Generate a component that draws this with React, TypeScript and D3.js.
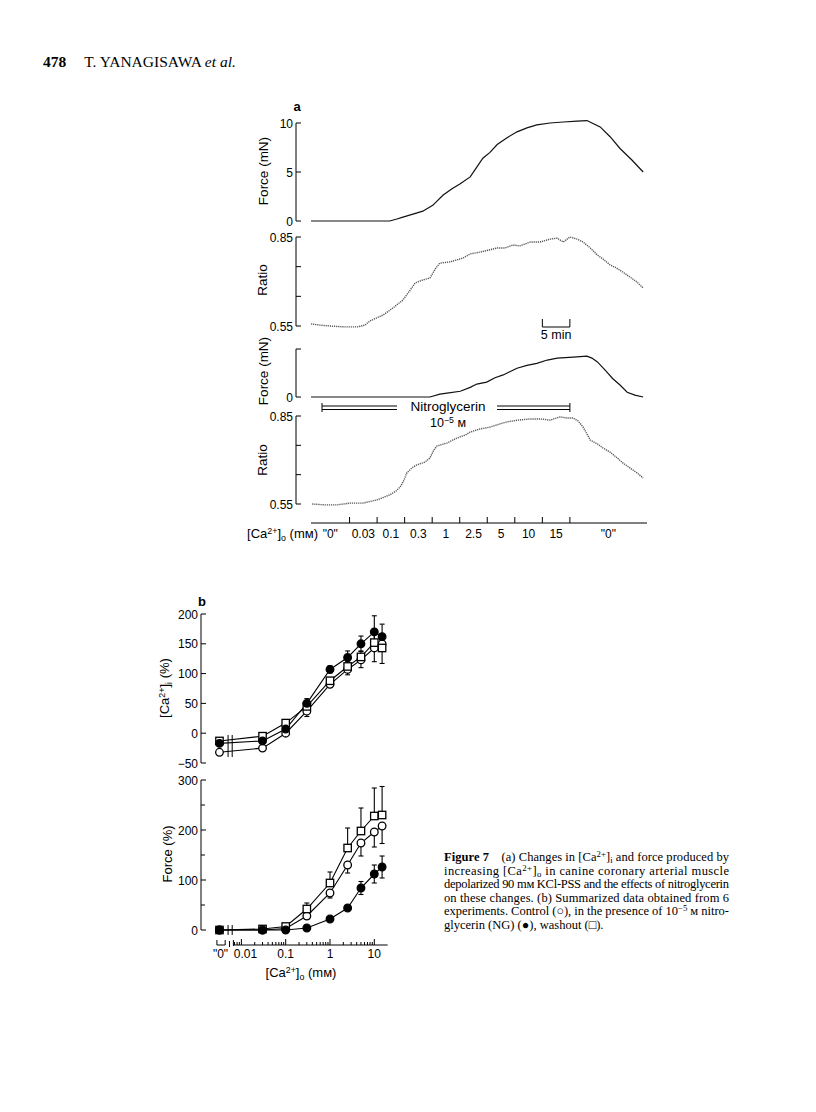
import React from 'react'
import * as d3 from 'd3'

// Fig. 7 — [Ca2+]i / force in coronary artery, effect of nitroglycerin.
// Panel a: recorded traces (time in min, value). Panel b: summary (n = 6).

type Pt = [number, number]

// ---- panel a : traces ----
const force1: Pt[] = [
  [0, 0], [14.3, 0], [15.6, 0.2], [16.7, 0.4], [18.5, 0.7], [20.3, 1.0], [22.1, 1.6],
  [24.0, 2.65], [25.6, 3.3], [27.1, 3.8], [28.9, 4.5], [30.1, 5.5], [31.2, 6.4],
  [32.5, 7.0], [33.8, 7.8], [35.6, 8.5], [37.4, 9.1], [39.2, 9.5], [41.0, 9.8],
  [43.4, 10.0], [45.8, 10.1], [48.3, 10.2], [50.1, 10.25], [51.0, 10.0], [52.5, 9.6],
  [54.3, 8.6], [56.1, 7.4], [58.3, 6.2], [60.3, 5.0],
]
const ratio1: Pt[] = [
  [0, 0.557], [1.6, 0.553], [3.4, 0.55], [6.2, 0.547], [8.4, 0.547], [9.8, 0.553],
  [10.7, 0.567], [13.1, 0.587], [14.9, 0.611], [16.7, 0.638], [18.0, 0.671],
  [18.9, 0.695], [20.3, 0.705], [21.6, 0.712], [22.7, 0.746], [23.4, 0.762],
  [25.2, 0.766], [27.6, 0.779], [28.9, 0.793], [30.7, 0.799], [33.8, 0.813],
  [35.2, 0.813], [36.7, 0.823], [37.9, 0.82], [39.8, 0.833], [41.6, 0.833],
  [43.4, 0.843], [44.7, 0.846], [45.8, 0.833], [47.0, 0.85], [48.3, 0.843],
  [49.4, 0.833], [50.7, 0.813], [52.0, 0.789], [53.0, 0.776], [54.3, 0.756],
  [55.4, 0.746], [56.6, 0.732], [57.9, 0.715], [59.2, 0.698], [60.3, 0.678],
]
const force2: Pt[] = [
  [0, 0], [21.6, 0], [23.4, 0.3], [24.7, 0.4], [27.1, 0.6], [28.9, 1.0], [30.1, 1.35],
  [31.9, 1.55], [33.4, 2.0], [34.9, 2.3], [37.4, 3.0], [39.2, 3.3], [41.0, 3.5],
  [42.9, 3.85], [44.7, 4.05], [47.6, 4.15], [50.1, 4.25], [51.0, 4.05], [52.0, 3.65],
  [53.4, 2.8], [54.8, 1.9], [56.1, 1.25], [57.4, 0.5], [58.8, 0.2], [60.3, 0],
]
const ratio2: Pt[] = [
  [0.2, 0.55], [2.5, 0.547], [4.7, 0.547], [7.1, 0.553], [9.4, 0.553], [12.0, 0.564],
  [14.3, 0.581], [15.4, 0.594], [16.2, 0.608], [16.9, 0.632], [17.4, 0.656],
  [18.3, 0.673], [19.2, 0.683], [20.7, 0.693], [21.6, 0.707], [22.3, 0.734],
  [22.9, 0.748], [24.7, 0.758], [26.5, 0.775], [28.0, 0.785], [28.9, 0.795],
  [30.7, 0.806], [32.5, 0.812], [34.3, 0.823], [35.6, 0.83], [37.6, 0.836],
  [39.8, 0.84], [41.6, 0.84], [43.4, 0.836], [45.2, 0.847], [46.5, 0.843],
  [47.6, 0.843], [48.5, 0.833], [49.4, 0.812], [50.1, 0.789], [50.7, 0.768],
  [52.0, 0.755], [53.0, 0.741], [54.3, 0.727], [55.6, 0.707], [56.6, 0.69],
  [57.9, 0.673], [59.2, 0.656], [60.3, 0.639],
]
// bath [Ca2+]o was changed at these times (min)
const concSteps = [0, 7, 12, 17, 22, 27, 32, 37, 42, 47, 61]
const concStepLabels = ['"0"', '0.03', '0.1', '0.3', '1', '2.5', '5', '10', '15', '"0"']
const ngPeriod = [2, 47]
const scaleBar = [42, 47]

// ---- panel b : means ----
const zeroConc = 0.0032 // where "0" sits on the log axis
const concs = [zeroConc, 0.03, 0.1, 0.3, 1, 2.5, 5, 10, 15]
const caControl = [-32, -25, 0, 37, 82, 107, 123, 143, 150]
const caNG = [-17, -13, 7, 50, 107, 127, 150, 170, 162]
const caWash = [-13, -5, 17, 45, 88, 112, 128, 152, 143]
const caControlErr = [0, 0, 0, 9, 5, 9, 13, 23, 33]
const caNGErr = [0, 0, 0, 8, 6, 11, 13, 27, 21]
const caWashErr = [0, 0, 0, 6, 5, 8, 10, 18, 18]
const fControl = [0, 0, 3, 28, 74, 130, 174, 196, 208]
const fNG = [0, 0, 0, 4, 22, 44, 84, 112, 126]
const fWash = [0, 2, 7, 42, 94, 164, 198, 228, 230]
const fControlErr = [0, 0, 0, 6, 10, 16, 26, 30, 35]
const fNGErr = [0, 0, 0, 0, 0, 4, 13, 18, 22]
const fWashErr = [0, 0, 0, 12, 22, 40, 46, 56, 57]
const logTicks = [0.01, 0.1, 1, 10]
const logTickLabels = ['0.01', '0.1', '1', '10']

const SANS = 'Liberation Sans, Arial, Helvetica, sans-serif'
const SERIF = 'Liberation Serif, Times New Roman, serif'
const TICK_FS = 12
const TITLE_FS = 13.5

function VAxis({ x, scale, ticks, labels, minor = [] }: any) {
  const [r0, r1] = scale.range()
  return (
    <g>
      <line x1={x} x2={x} y1={r0} y2={r1} stroke="#000" strokeWidth={1} />
      {ticks.map((t: number, i: number) => (
        <g key={i}>
          <line x1={x} x2={x + 5} y1={scale(t)} y2={scale(t)} stroke="#000" />
          {labels[i] ? (
            <text x={x - 3} y={scale(t) + 4.5} textAnchor="end" fontSize={TICK_FS} fontFamily={SANS}>
              {labels[i]}
            </text>
          ) : null}
        </g>
      ))}
      {minor.map((t: number, i: number) => (
        <line key={'m' + i} x1={x} x2={x + 4} y1={scale(t)} y2={scale(t)} stroke="#000" />
      ))}
    </g>
  )
}

function Marker({ kind, cx, cy }: any) {
  if (kind === 'square')
    return <rect x={cx - 3.7} y={cy - 3.7} width={7.4} height={7.4} fill="#fff" stroke="#000" strokeWidth={1.3} />
  return <circle cx={cx} cy={cy} r={3.8} fill={kind === 'filled' ? '#000' : '#fff'} stroke="#000" strokeWidth={1.3} />
}

function CaLabel({ sub }: { sub: string }) {
  return (
    <>
      <tspan>[Ca</tspan>
      <tspan fontSize="0.68em" dy={-4.5}>2+</tspan>
      <tspan dy={4.5}>]</tspan>
      <tspan fontSize="0.68em" dy={3}>{sub}</tspan>
      <tspan dy={-3}> </tspan>
    </>
  )
}

export default function App() {
  // panel a scales
  const xT = d3.scaleLinear().domain([0, 61]).range([311, 647])
  const yF1 = d3.scaleLinear().domain([0, 10]).range([221, 123])
  const yR1 = d3.scaleLinear().domain([0.55, 0.85]).range([326, 237])
  const yF2 = d3.scaleLinear().domain([0, 5]).range([397, 349])
  const yR2 = d3.scaleLinear().domain([0.55, 0.85]).range([504, 416])
  const axA = 296
  const traceLine = (y: any) => d3.line<Pt>().x((d) => xT(d[0])).y((d) => y(d[1]))

  // panel b scales
  const xC = d3.scaleLog().domain([0.01, 10]).range([241.4, 374.3])
  const yCa = d3.scaleLinear().domain([-50, 200]).range([763, 614])
  const yF = d3.scaleLinear().domain([0, 300]).range([930, 780])
  const axB = 201
  const xAxisY = 945

  const series = [
    { kind: 'circle', ca: caControl, caErr: caControlErr, f: fControl, fErr: fControlErr, dir: 'down' },
    { kind: 'square', ca: caWash, caErr: caWashErr, f: fWash, fErr: fWashErr, dir: 'up' },
    { kind: 'filled', ca: caNG, caErr: caNGErr, f: fNG, fErr: fNGErr, dir: 'both' },
  ]

  const meanLine = (y: any) =>
    d3.line<number>().x((_, i) => xC(concs[i])).y((d) => y(d))

  const errBars = (vals: number[], errs: number[], y: any, dir: string, key: string) =>
    vals.map((v, i) => {
      const e = errs[i]
      if (!e) return null
      const cx = xC(concs[i])
      const lo = dir === 'up' ? v : v - e
      const hi = dir === 'down' ? v : v + e
      return (
        <g key={key + i} stroke="#000" strokeWidth={1.1}>
          <line x1={cx} x2={cx} y1={y(lo)} y2={y(hi)} />
          {dir !== 'up' && <line x1={cx - 2.5} x2={cx + 2.5} y1={y(lo)} y2={y(lo)} />}
          {dir !== 'down' && <line x1={cx - 2.5} x2={cx + 2.5} y1={y(hi)} y2={y(hi)} />}
        </g>
      )
    })

  const minorTicks: number[] = []
  for (const dec of [0.001, 0.01, 0.1, 1, 10]) for (let k = 2; k <= 9; k++) minorTicks.push(dec * k)
  const axisLo = 0.0066
  const axisHi = 20
  const minorIn = minorTicks.filter((t) => t > axisLo && t < axisHi)

  const captionLines: React.ReactNode[] = [
    <>
      <tspan fontWeight="bold">Figure 7</tspan>
      <tspan>{'\u2003(a) Changes in [Ca'}</tspan>
      <tspan fontSize="0.7em" dy={-4}>2+</tspan>
      <tspan dy={4}>]</tspan>
      <tspan fontSize="0.7em" dy={2}>i</tspan>
      <tspan dy={-2}> and force produced by</tspan>
    </>,
    <>
      <tspan>increasing [Ca</tspan>
      <tspan fontSize="0.7em" dy={-4}>2+</tspan>
      <tspan dy={4}>]</tspan>
      <tspan fontSize="0.7em" dy={2}>o</tspan>
      <tspan dy={-2}> in canine coronary arterial muscle</tspan>
    </>,
    <>depolarized 90 mм KCl-PSS and the effects of nitroglycerin</>,
    <>on these changes. (b) Summarized data obtained from 6</>,
    <>
      <tspan>experiments. Control (○), in the presence of 10</tspan>
      <tspan fontSize="0.7em" dy={-4}>−5</tspan>
      <tspan dy={4}> м nitro-</tspan>
    </>,
    <>glycerin (NG) (●), washout (□).</>,
  ]
  const captionY = [861, 875, 888, 902, 915, 929]

  return (
    <svg
      width={816}
      height={1112}
      viewBox="0 0 816 1112"
      style={{ position: 'absolute', left: 0, top: 0, background: '#fff' }}
    >
      <rect width={816} height={1112} fill="#fff" />

      {/* running head */}
      <text x={43} y={67} fontFamily={SERIF} fontSize={15.5}>
        <tspan fontWeight="bold">478</tspan>
        <tspan dx={18}>T. YANAGISAWA </tspan>
        <tspan fontStyle="italic">et al.</tspan>
      </text>

      {/* ================= panel a ================= */}
      <text x={297} y={111} textAnchor="middle" fontFamily={SANS} fontWeight="bold" fontSize={13}>a</text>

      <VAxis x={axA} scale={yF1} ticks={[10, 5, 0]} labels={['10', '5', '0']} />
      <path d={traceLine(yF1)(force1) || ''} fill="none" stroke="#111" strokeWidth={1.2} />
      <text transform={`translate(268,171) rotate(-90)`} textAnchor="middle" fontFamily={SANS} fontSize={TITLE_FS}>Force (mN)</text>

      <VAxis x={axA} scale={yR1} ticks={[0.85, 0.75, 0.65, 0.55]} labels={['0.85', '', '', '0.55']} />
      <path d={traceLine(yR1)(ratio1) || ''} fill="none" stroke="#555" strokeWidth={1.4} strokeDasharray="1.2 0.9" />
      <text transform={`translate(267,280) rotate(-90)`} textAnchor="middle" fontFamily={SANS} fontSize={TITLE_FS}>Ratio</text>

      {/* 5 min calibration */}
      <path
        d={`M${xT(scaleBar[0])},319V327H${xT(scaleBar[1])}V319`}
        fill="none"
        stroke="#000"
        strokeWidth={1}
      />
      <text x={(xT(scaleBar[0]) + xT(scaleBar[1])) / 2} y={339} textAnchor="middle" fontFamily={SANS} fontSize={12.5}>5 min</text>

      <VAxis x={axA} scale={yF2} ticks={[5, 0]} labels={['', '0']} />
      <path d={traceLine(yF2)(force2) || ''} fill="none" stroke="#111" strokeWidth={1.2} />
      <text transform={`translate(268,371) rotate(-90)`} textAnchor="middle" fontFamily={SANS} fontSize={TITLE_FS}>Force (mN)</text>

      {/* nitroglycerin application */}
      <g stroke="#000" strokeWidth={1}>
        <line x1={xT(ngPeriod[0])} x2={xT(ngPeriod[0])} y1={403} y2={412} />
        <line x1={xT(ngPeriod[1])} x2={xT(ngPeriod[1])} y1={403} y2={412} />
        <line x1={xT(ngPeriod[0])} x2={397} y1={406} y2={406} />
        <line x1={xT(ngPeriod[0])} x2={397} y1={409.5} y2={409.5} />
        <line x1={497} x2={xT(ngPeriod[1])} y1={406} y2={406} />
        <line x1={497} x2={xT(ngPeriod[1])} y1={409.5} y2={409.5} />
      </g>
      <text x={448} y={411} textAnchor="middle" fontFamily={SANS} fontSize={13.5}>Nitroglycerin</text>
      <text x={448} y={427} textAnchor="middle" fontFamily={SANS} fontSize={12.5}>
        10<tspan fontSize="0.7em" dy={-4}>−5</tspan>
        <tspan dy={4}> м</tspan>
      </text>

      <VAxis x={axA} scale={yR2} ticks={[0.85, 0.75, 0.65, 0.55]} labels={['0.85', '', '', '0.55']} />
      <path d={traceLine(yR2)(ratio2) || ''} fill="none" stroke="#555" strokeWidth={1.4} strokeDasharray="1.2 0.9" />
      <text transform={`translate(267,460) rotate(-90)`} textAnchor="middle" fontFamily={SANS} fontSize={TITLE_FS}>Ratio</text>

      {/* [Ca2+]o time line */}
      <line x1={xT(0)} x2={xT(61)} y1={523} y2={523} stroke="#000" />
      {concSteps.slice(1, -1).map((t, i) => (
        <line key={i} x1={xT(t)} x2={xT(t)} y1={517} y2={523} stroke="#000" />
      ))}
      {concStepLabels.map((lab, i) => (
        <text
          key={i}
          x={xT((concSteps[i] + concSteps[i + 1]) / 2)}
          y={538}
          textAnchor="middle"
          fontFamily={SANS}
          fontSize={12}
        >
          {lab}
        </text>
      ))}
      <text x={318} y={538} textAnchor="end" fontFamily={SANS} fontSize={13}>
        <CaLabel sub="o" />
        (mм)
      </text>

      {/* ================= panel b ================= */}
      <text x={202} y={606} textAnchor="middle" fontFamily={SANS} fontWeight="bold" fontSize={13}>b</text>

      <VAxis
        x={axB}
        scale={yCa}
        ticks={[200, 150, 100, 50, 0, -50]}
        labels={['200', '150', '100', '50', '0', '−50']}
      />
      <text transform={`translate(169,688) rotate(-90)`} textAnchor="middle" fontFamily={SANS} fontSize={13}>
        <CaLabel sub="i" />
        (%)
      </text>

      {series.map((s) => (
        <path key={'cl' + s.kind} d={meanLine(yCa)(s.ca) || ''} fill="none" stroke="#000" strokeWidth={1.1} />
      ))}
      {/* axis break on the data lines */}
      <g stroke="#000" strokeWidth={1}>
        <line x1={xC(0.005)} x2={xC(0.005)} y1={yCa(-3)} y2={yCa(-40)} />
        <line x1={xC(0.0062)} x2={xC(0.0062)} y1={yCa(-3)} y2={yCa(-40)} />
      </g>
      {series.map((s) => errBars(s.ca, s.caErr, yCa, s.dir, 'ce' + s.kind))}
      {series.map((s) =>
        s.ca.map((v, i) => <Marker key={'cm' + s.kind + i} kind={s.kind} cx={xC(concs[i])} cy={yCa(v)} />),
      )}

      <VAxis
        x={axB}
        scale={yF}
        ticks={[300, 200, 100, 0]}
        labels={['300', '200', '100', '0']}
        minor={[250, 150, 50]}
      />
      <text transform={`translate(172,854) rotate(-90)`} textAnchor="middle" fontFamily={SANS} fontSize={13}>
        Force (%)
      </text>

      {series.map((s) => (
        <path key={'fl' + s.kind} d={meanLine(yF)(s.f) || ''} fill="none" stroke="#000" strokeWidth={1.1} />
      ))}
      <g stroke="#000" strokeWidth={1}>
        <line x1={xC(0.005)} x2={xC(0.005)} y1={yF(0) - 5} y2={yF(0) + 5} />
        <line x1={xC(0.0062)} x2={xC(0.0062)} y1={yF(0) - 5} y2={yF(0) + 5} />
      </g>
      {series.map((s) => errBars(s.f, s.fErr, yF, s.dir, 'fe' + s.kind))}
      {series.map((s) =>
        s.f.map((v, i) => <Marker key={'fm' + s.kind + i} kind={s.kind} cx={xC(concs[i])} cy={yF(v)} />),
      )}

      {/* log concentration axis with a separate "0" stub */}
      <g stroke="#000" strokeWidth={1} fill="none">
        <path d={`M${xC(0.0028)},${xAxisY - 5}V${xAxisY}H${xC(0.0043)}V${xAxisY - 5}`} />
        <line x1={xC(0.0054)} x2={xC(0.0054)} y1={xAxisY - 4} y2={xAxisY + 2} />
        <line x1={xC(axisLo)} x2={xC(axisHi)} y1={xAxisY} y2={xAxisY} />
        <line x1={xC(axisLo)} x2={xC(axisLo)} y1={xAxisY - 5} y2={xAxisY + 1} />
        {logTicks.map((t, i) => (
          <line key={i} x1={xC(t)} x2={xC(t)} y1={xAxisY - 6} y2={xAxisY} />
        ))}
        {minorIn.map((t, i) => (
          <line key={'n' + i} x1={xC(t)} x2={xC(t)} y1={xAxisY - 3} y2={xAxisY} />
        ))}
      </g>
      <text x={xC(zeroConc) + 1} y={958} textAnchor="middle" fontFamily={SANS} fontSize={TICK_FS}>"0"</text>
      {logTicks.map((t, i) => (
        <text key={i} x={xC(t) + (i === 0 ? 4 : 0)} y={958} textAnchor="middle" fontFamily={SANS} fontSize={TICK_FS}>
          {logTickLabels[i]}
        </text>
      ))}
      <text x={301} y={977} textAnchor="middle" fontFamily={SANS} fontSize={13}>
        <CaLabel sub="o" />
        (mм)
      </text>

      {/* caption */}
      {captionLines.map((ln, i) => (
        <text
          key={i}
          x={444}
          y={captionY[i]}
          fontFamily={SERIF}
          fontSize={12.5}
          textLength={i < captionLines.length - 1 ? 285 : undefined}
          lengthAdjust="spacing"
        >
          {ln}
        </text>
      ))}
    </svg>
  )
}
